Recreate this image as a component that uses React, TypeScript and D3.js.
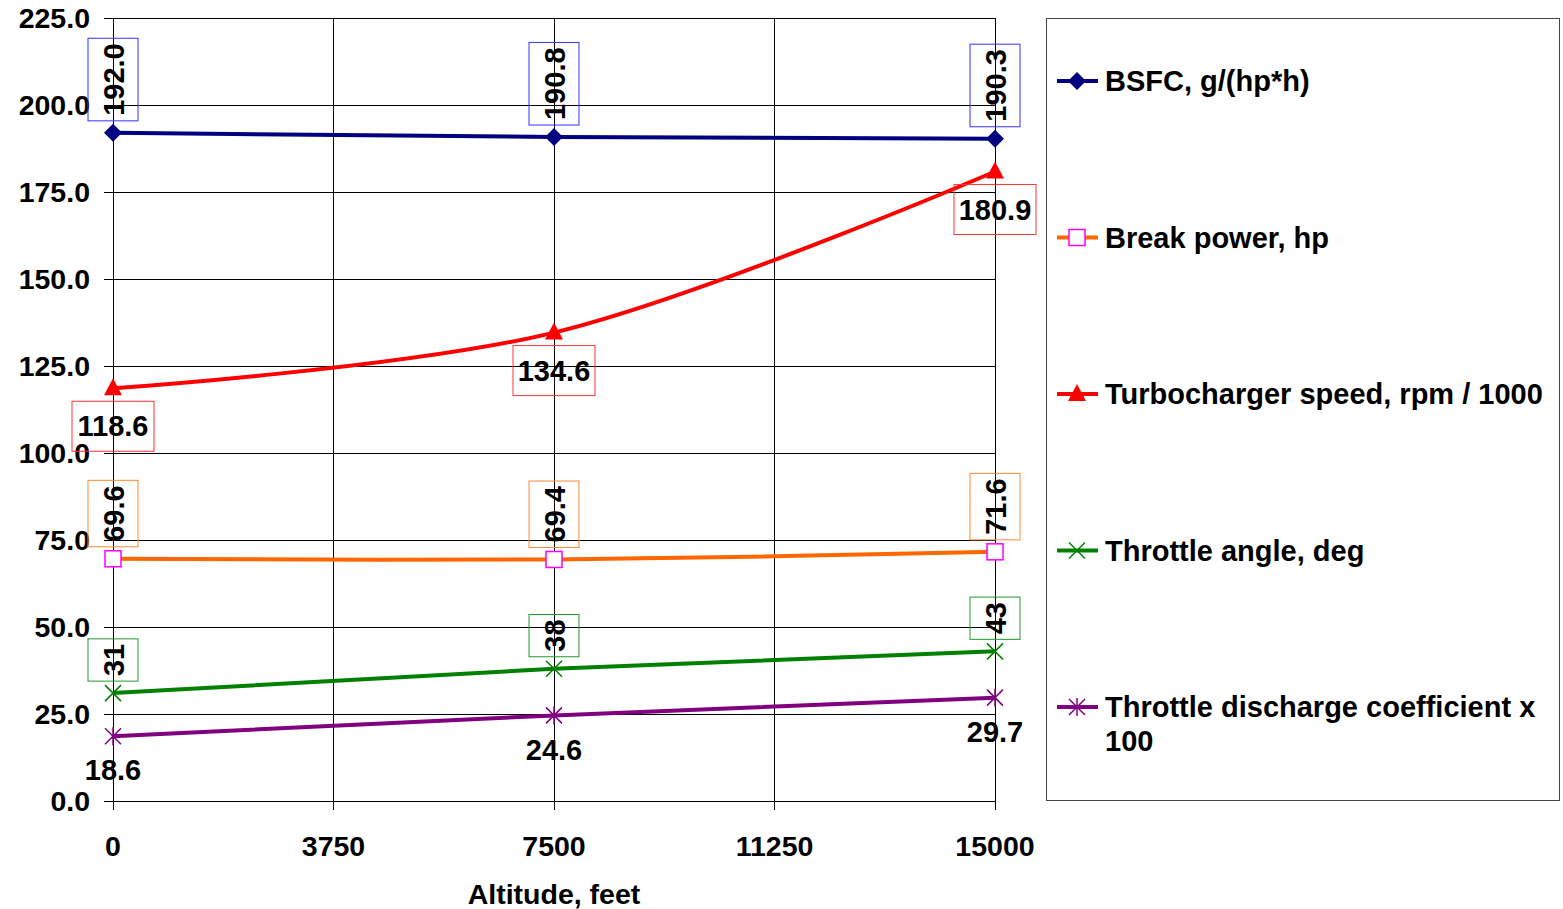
import React, { useEffect, useRef } from 'react';
import * as d3 from 'd3';

const altitudes = [0, 7500, 15000];
const bsfc = [192.0, 190.8, 190.3];
const breakPower = [69.6, 69.4, 71.6];
const turboSpeed = [118.6, 134.6, 180.9];
const throttleAngle = [31, 38, 43];
const dischargeCoef = [18.6, 24.6, 29.7];

const xTicks = [0, 3750, 7500, 11250, 15000];
const yTicks = [0, 25, 50, 75, 100, 125, 150, 175, 200, 225];

const seriesNames = [
  'BSFC, g/(hp*h)',
  'Break power, hp',
  'Turbocharger speed, rpm / 1000',
  'Throttle angle, deg',
  'Throttle discharge coefficient x 100',
];

const FONT = '"Liberation Sans", Arial, sans-serif';

function App() {
  const ref = useRef<SVGSVGElement | null>(null);

  useEffect(() => {
    const svg = d3.select(ref.current);
    svg.selectAll('*').remove();

    const x = d3.scaleLinear().domain([0, 15000]).range([113, 995]);
    const y = d3.scaleLinear().domain([0, 225]).range([801, 18]);

    const g = svg.append('g');

    // grid
    g.selectAll('.hgrid').data(yTicks).enter().append('line')
      .attr('x1', 104).attr('x2', 995)
      .attr('y1', d => y(d)).attr('y2', d => y(d))
      .attr('stroke', '#000').attr('stroke-width', 1)
      .attr('shape-rendering', 'crispEdges');
    g.selectAll('.vgrid').data(xTicks).enter().append('line')
      .attr('x1', d => x(d)).attr('x2', d => x(d))
      .attr('y1', 18).attr('y2', 810)
      .attr('stroke', '#000').attr('stroke-width', 1)
      .attr('shape-rendering', 'crispEdges');

    const tickFont = `bold 28.5px ${FONT}`;
    // tick labels
    g.selectAll('.ylab').data(yTicks).enter().append('text')
      .attr('x', 90).attr('y', d => y(d)).attr('dy', '0.35em')
      .attr('text-anchor', 'end')
      .style('font', tickFont)
      .text(d => d3.format('.1f')(d));
    g.selectAll('.xlab').data(xTicks).enter().append('text')
      .attr('x', d => x(d)).attr('y', 856)
      .attr('text-anchor', 'middle')
      .style('font', tickFont)
      .text(d => String(d));
    g.append('text')
      .attr('x', x(7500)).attr('y', 904)
      .attr('text-anchor', 'middle')
      .style('font', tickFont)
      .text('Altitude, feet');

    const series = [
      { name: seriesNames[0], values: bsfc, color: '#000080', marker: 'diamond', smooth: false },
      { name: seriesNames[1], values: breakPower, color: '#FF6600', marker: 'square', smooth: true },
      { name: seriesNames[2], values: turboSpeed, color: '#FF0000', marker: 'triangle', smooth: true },
      { name: seriesNames[3], values: throttleAngle, color: '#008000', marker: 'x', smooth: false },
      { name: seriesNames[4], values: dischargeCoef, color: '#800080', marker: 'star', smooth: false },
    ];

    const drawMarker = (sel: any, type: string, cx: number, cy: number) => {
      if (type === 'diamond') {
        sel.append('path').attr('d', `M${cx},${cy - 9}L${cx + 9},${cy}L${cx},${cy + 9}L${cx - 9},${cy}Z`)
          .attr('fill', '#000080');
      } else if (type === 'square') {
        sel.append('rect').attr('x', cx - 8).attr('y', cy - 8).attr('width', 16).attr('height', 16)
          .attr('fill', '#fff').attr('stroke', '#FF00FF').attr('stroke-width', 1.5);
      } else if (type === 'triangle') {
        sel.append('path').attr('d', `M${cx},${cy - 10}L${cx + 9},${cy + 7}L${cx - 9},${cy + 7}Z`)
          .attr('fill', '#FF0000');
      } else if (type === 'x') {
        sel.append('path').attr('d', `M${cx - 8},${cy - 8}L${cx + 8},${cy + 8}M${cx - 8},${cy + 8}L${cx + 8},${cy - 8}`)
          .attr('stroke', '#008000').attr('stroke-width', 1.5);
      } else if (type === 'star') {
        sel.append('path').attr('d', `M${cx - 8},${cy - 8}L${cx + 8},${cy + 8}M${cx - 8},${cy + 8}L${cx + 8},${cy - 8}M${cx},${cy - 9}L${cx},${cy + 9}`)
          .attr('stroke', '#800080').attr('stroke-width', 1.5);
      }
    };

    series.forEach(s => {
      const pts: [number, number][] = s.values.map((v, i) => [altitudes[i], v]);
      const line = d3.line<[number, number]>()
        .x(d => x(d[0])).y(d => y(d[1]))
        .curve(s.smooth ? d3.curveCatmullRom.alpha(0.5) : d3.curveLinear);
      g.append('path').attr('d', line(pts) as string)
        .attr('fill', 'none').attr('stroke', s.color).attr('stroke-width', 4);
      pts.forEach(p => drawMarker(g, s.marker, x(p[0]), y(p[1])));
    });

    // data labels
    const labelFont = `bold 29px ${FONT}`;
    const rotatedLabel = (vals: number[], fmt: (v: number) => string, boxColor: string) => {
      vals.forEach((v, i) => {
        const cx = x(altitudes[i]);
        const py = y(v);
        const t = g.append('text')
          .style('font', labelFont)
          .attr('text-anchor', 'middle')
          .text(fmt(v));
        const len = (t.node() as SVGTextElement).getComputedTextLength();
        const boxH = len + 10;
        const boxBottom = py - 12;
        const mid = boxBottom - boxH / 2;
        t.attr('transform', `translate(${cx + 11},${mid}) rotate(-90)`);
        g.append('rect')
          .attr('x', cx - 25).attr('y', boxBottom - boxH)
          .attr('width', 50).attr('height', boxH)
          .attr('fill', 'none').attr('stroke', boxColor).attr('stroke-width', 1);
      });
    };
    rotatedLabel(bsfc, d3.format('.1f'), '#3333FF');
    rotatedLabel(breakPower, d3.format('.1f'), '#FF8833');
    rotatedLabel(throttleAngle, d => String(d), '#22992D');

    turboSpeed.forEach((v, i) => {
      const cx = x(altitudes[i]);
      const py = y(v);
      g.append('rect')
        .attr('x', cx - 41).attr('y', py + 13).attr('width', 82).attr('height', 50)
        .attr('fill', 'none').attr('stroke', '#FF3333').attr('stroke-width', 1);
      g.append('text')
        .attr('x', cx).attr('y', py + 38).attr('dy', '0.35em')
        .attr('text-anchor', 'middle').style('font', labelFont)
        .text(d3.format('.1f')(v));
    });

    dischargeCoef.forEach((v, i) => {
      const cx = x(altitudes[i]);
      const py = y(v);
      g.append('text')
        .attr('x', cx).attr('y', py + 34).attr('dy', '0.35em')
        .attr('text-anchor', 'middle').style('font', labelFont)
        .text(d3.format('.1f')(v));
    });

    // legend
    g.append('rect')
      .attr('x', 1046.5).attr('y', 18.5).attr('width', 513).attr('height', 782)
      .attr('fill', 'none').attr('stroke', '#444').attr('stroke-width', 1);
    const legendY = d3.scalePoint<number>().domain(d3.range(series.length)).range([81, 707]);
    const legendFont = `bold 29px ${FONT}`;
    series.forEach((s, i) => {
      const ly = legendY(i) as number;
      g.append('line').attr('x1', 1057).attr('x2', 1098).attr('y1', ly).attr('y2', ly)
        .attr('stroke', s.color).attr('stroke-width', 4);
      drawMarker(g, s.marker, 1077, ly);
      const t = g.append('text').attr('x', 1105).attr('y', ly).attr('dy', '0.35em')
        .style('font', legendFont);
      if (i === 4) {
        t.text('Throttle discharge coefficient x');
        g.append('text').attr('x', 1105).attr('y', ly + 34).attr('dy', '0.35em')
          .style('font', legendFont).text('100');
      } else {
        t.text(s.name);
      }
    });
  }, []);

  return (
    <svg ref={ref} width={1563} height={909}
      style={{ position: 'absolute', left: 0, top: 0, background: '#fff' }} />
  );
}

export default App;
